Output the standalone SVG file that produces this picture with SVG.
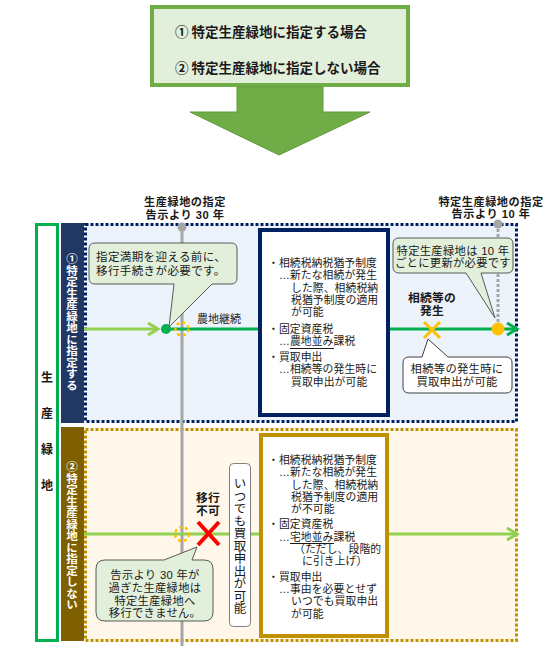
<svg xmlns="http://www.w3.org/2000/svg" width="557" height="656" viewBox="0 0 557 656">
<defs>
<style>
text{font-family:"Liberation Sans","Noto Sans CJK JP","Noto Sans CJK SC",sans-serif;fill:#1a1a1a}
.cjk{font-family:"Noto Sans CJK JP","Noto Sans CJK SC",sans-serif}
.b{font-weight:bold}
.info{font-size:10.8px;letter-spacing:0.1px}
.lbl{font-size:11.8px;font-weight:bold;text-anchor:middle;letter-spacing:0.2px}
.lbl2{font-size:11.2px;font-weight:bold;text-anchor:middle;letter-spacing:0.5px}
.co{font-size:11.3px;text-anchor:middle;letter-spacing:0.3px}
.vt{writing-mode:vertical-rl;text-orientation:upright}
.callg{fill:#e2efda;stroke:#595959;stroke-width:1}
.callw{fill:#ffffff;stroke:#404040;stroke-width:1}
.ul{stroke:#1a1a1a;stroke-width:1}
</style>
<marker id="chevLG" markerUnits="userSpaceOnUse" markerWidth="14" markerHeight="14" refX="11" refY="7" orient="auto"><path d="M1,1 L11,7 L1,13" fill="none" stroke="#92d050" stroke-width="3"/></marker>
<marker id="chevG" markerUnits="userSpaceOnUse" markerWidth="14" markerHeight="14" refX="11" refY="7" orient="auto"><path d="M1,1 L11,7 L1,13" fill="none" stroke="#00b050" stroke-width="3"/></marker>
</defs>
<rect width="557" height="656" fill="#ffffff"/>

<g id="top-box">
<rect x="152" y="7" width="256" height="78" fill="#e2efda" stroke="#70ad47" stroke-width="4"/>
<text x="175" y="37" class="b cjk" font-size="13.5">① 特定生産緑地に指定する場合</text>
<text x="175" y="73" class="b cjk" font-size="13.5">② 特定生産緑地に指定しない場合</text>
</g>
<g id="big-arrow">
<polygon points="237,87 323,87 323,112 370,112 279,155 190,112 237,112" fill="#70ad47" stroke="#5e9a3a" stroke-width="1"/>
</g>

<g id="seisan-ryokuchi">
<rect x="36.5" y="224.5" width="21" height="416" fill="#ffffff" stroke="#00b050" stroke-width="3"/>
<text x="47" y="382" class="b" font-size="12" text-anchor="middle">生<tspan x="47" dy="36">産</tspan><tspan x="47" dy="36">緑</tspan><tspan x="47" dy="36">地</tspan></text>
</g>

<g id="section1">
<rect x="61" y="223" width="23" height="200" fill="#203864"/>
<rect x="85.5" y="224.5" width="431" height="197" fill="#edf3fb" stroke="#002060" stroke-width="3" stroke-dasharray="3 2"/>
<text x="72" y="322" class="b vt cjk" font-size="11.5" text-anchor="middle" style="fill:#ffffff">①特定生産緑地に指定する</text>
</g>
<g id="section2">
<rect x="61" y="427" width="23" height="214" fill="#7f6000"/>
<rect x="85.5" y="429.5" width="431" height="211" fill="#fff8ea" stroke="#bf9000" stroke-width="3" stroke-dasharray="3 2"/>
<text x="72" y="536" class="b vt cjk" font-size="11.5" text-anchor="middle" style="fill:#ffffff">②特定生産緑地に指定しない</text>
</g>

<g id="connectors">
<line x1="182" y1="227" x2="182" y2="646" stroke="#a6a6a6" stroke-width="3"/>
<circle cx="182" cy="227" r="4.5" fill="#a6a6a6"/>
<line x1="498" y1="224" x2="498" y2="328" stroke="#a6a6a6" stroke-width="3" stroke-dasharray="3 2"/>
<circle cx="498" cy="224" r="4.5" fill="#a6a6a6"/>
<line x1="84" y1="329" x2="158" y2="329" stroke="#92d050" stroke-width="3" marker-end="url(#chevLG)"/>
<line x1="166" y1="329" x2="517" y2="329" stroke="#00b050" stroke-width="3" marker-end="url(#chevG)"/>
<line x1="84" y1="534" x2="517" y2="534" stroke="#92d050" stroke-width="3" marker-end="url(#chevLG)"/>
</g>

<g id="markers-points">
<circle cx="166" cy="329" r="5" fill="#00b050"/>
<circle cx="182" cy="329" r="6.5" fill="none" stroke="#ffc000" stroke-width="2.5" stroke-dasharray="3 3"/>
<circle cx="182" cy="534" r="7" fill="none" stroke="#ffc000" stroke-width="2.5" stroke-dasharray="3 3"/>
<circle cx="498" cy="329" r="6.5" fill="#ffc000"/>
<path d="M424,322 L440,338 M440,322 L424,338" stroke="#ffc000" stroke-width="3"/>
<path d="M198,522 L219,545 M219,522 L198,545" stroke="#ff0000" stroke-width="4"/>
</g>

<g id="label-30">
<text x="185" y="206" class="lbl2">生産緑地の指定<tspan x="185" dy="12.6">告示より 30 年</tspan></text>
</g>
<g id="label-10">
<text x="491" y="205.5" class="lbl2">特定生産緑地の指定<tspan x="491" dy="12.6">告示より 10 年</tspan></text>
</g>
<g id="label-nochi">
<text x="197" y="323" font-size="11">農地継続</text>
</g>
<g id="label-sozoku">
<text x="432" y="302" class="lbl">相続等の<tspan x="432" dy="12.5">発生</tspan></text>
</g>
<g id="label-iko">
<text x="208" y="502" class="lbl">移行<tspan x="208" dy="12.5">不可</tspan></text>
</g>

<g id="callout1">
<path class="callg" d="M95,243 H231 Q237,243 237,249 V278 Q237,284 231,284 H212 L169,327 L174,284 H95 Q89,284 89,278 V249 Q89,243 95,243 Z"/>
<text x="96" y="261" font-size="11.5" letter-spacing="0.4">指定満期を迎える前に、<tspan x="96" dy="13.5">移行手続きが必要です。</tspan></text>
</g>
<g id="callout2">
<path class="callg" d="M399,238 H507 Q513,238 513,244 V267 Q513,273 507,273 H481 L495,318 L466,273 H399 Q393,273 393,267 V244 Q393,238 399,238 Z"/>
<text x="453" y="254.5" class="co" font-size="10.8">特定生産緑地は 10 年<tspan x="453" dy="12.2">ごとに更新が必要です</tspan></text>
</g>
<g id="callout3">
<path class="callw" d="M409,357 H422 L428,339 L448,357 H506 Q512,357 512,363 V387 Q512,393 506,393 H409 Q403,393 403,387 V363 Q403,357 409,357 Z"/>
<text x="457" y="373" class="co">相続等の発生時に<tspan x="457" dy="12.8">買取申出が可能</tspan></text>
</g>
<g id="callout4">
<path class="callg" d="M105,560 H164 L197,547 L192,560 H204 Q213,560 213,569 V612 Q213,621 204,621 H105 Q96,621 96,612 V569 Q96,560 105,560 Z"/>
<text x="155" y="579" class="co">告示より 30 年が<tspan x="155" dy="12.8">過ぎた生産緑地は</tspan><tspan x="155" dy="12.8">特定生産緑地へ</tspan><tspan x="155" dy="12.8">移行できません。</tspan></text>
</g>
<g id="kaitori-anytime">
<rect x="229.5" y="463.5" width="21" height="163" rx="4" fill="#ffffff" stroke="#7f7f7f" stroke-width="1"/>
<text x="240" y="546" class="vt cjk" font-size="12.5" text-anchor="middle">いつでも買取申出が可能</text>
</g>

<g id="info1">
<rect x="260" y="230" width="128" height="185" fill="#ffffff" stroke="#002060" stroke-width="4"/>
<text class="info" x="268" y="267">・相続税納税猶予制度<tspan x="279" dy="12.3">…新たな相続が発生</tspan><tspan x="291" dy="12.3">した際、相続税納</tspan><tspan x="291" dy="12.3">税猶予制度の適用</tspan><tspan x="291" dy="12.3">が可能</tspan><tspan x="268" dy="16.5">・固定資産税</tspan><tspan x="279" dy="12.5">…農地並み課税</tspan><tspan x="268" dy="15.5">・買取申出</tspan><tspan x="279" dy="12.5">…相続等の発生時に</tspan><tspan x="291" dy="12.3">買取申出が可能</tspan></text>
<line class="ul" x1="290" y1="348.5" x2="334" y2="348.5"/>
</g>

<g id="info2">
<rect x="261" y="435" width="126" height="201" fill="#ffffff" stroke="#bf9000" stroke-width="4"/>
<text class="info" x="268" y="464">・相続税納税猶予制度<tspan x="279" dy="12.3">…新たな相続が発生</tspan><tspan x="291" dy="12.3">した際、相続税納</tspan><tspan x="291" dy="12.3">税猶予制度の適用</tspan><tspan x="291" dy="12.3">が不可能</tspan><tspan x="268" dy="15">・固定資産税</tspan><tspan x="279" dy="12.3">…宅地並み課税</tspan><tspan x="294" dy="12.5">（ただし、段階的</tspan><tspan x="302" dy="12.3">に引き上げ）</tspan><tspan x="268" dy="15.5">・買取申出</tspan><tspan x="279" dy="12.3">…事由を必要とせず</tspan><tspan x="291" dy="12.3">いつでも買取申出</tspan><tspan x="291" dy="12.3">が可能</tspan></text>
<line class="ul" x1="290" y1="543.5" x2="334" y2="543.5"/>
</g>
</svg>
